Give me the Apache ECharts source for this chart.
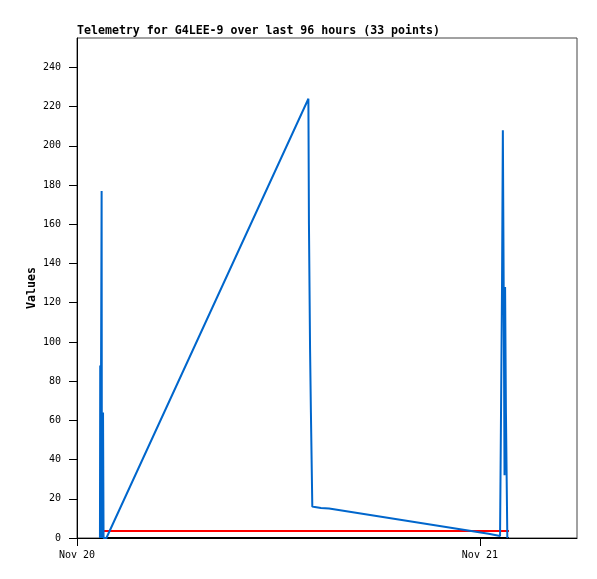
<!DOCTYPE html>
<html><head><meta charset="utf-8">
<script src="https://cdn.jsdelivr.net/npm/echarts@6/dist/echarts.min.js"></script>
<style>html,body{margin:0;padding:0;background:#fff}#c{width:597px;height:579px}</style>
</head><body><div id="c"></div>
<script>
// ---- data ----
const titleText = 'Telemetry for G4LEE-9 over last 96 hours (33 points)';
const yName = 'Values';
const xTickDates = ['2024-11-20', '2024-11-21'];
const xTickLabels = ['Nov 20', 'Nov 21'];
const yTickValues = [0, 20, 40, 60, 80, 100, 120, 140, 160, 180, 200, 220, 240];
const xRange = ['2024-11-20T00:00', '2024-11-21T05:47'];
const yMax = 255;

const blueTimes = ['2024-11-20T01:22','2024-11-20T01:23','2024-11-20T01:24','2024-11-20T01:28','2024-11-20T01:29','2024-11-20T01:33','2024-11-20T01:35','2024-11-20T01:45',
  '2024-11-20T13:47','2024-11-20T13:49','2024-11-20T13:53','2024-11-20T13:56','2024-11-20T14:01','2024-11-20T14:10','2024-11-20T14:32','2024-11-20T15:01',
  '2024-11-21T00:31','2024-11-21T01:12','2024-11-21T01:15','2024-11-21T01:19','2024-11-21T01:22','2024-11-21T01:25','2024-11-21T01:28','2024-11-21T01:30','2024-11-21T01:33','2024-11-21T01:38'];
const blueValues = [0, 88, 0, 177, 0, 64, 0, 0,
  224, 160, 96, 64, 16, 15.8, 15.3, 15,
  2.2, 1, 0, 128, 208, 128, 32, 128, 64, 0];

const redTimes = ['2024-11-20T01:34','2024-11-21T01:12','2024-11-21T01:17','2024-11-21T01:22','2024-11-21T01:44'];
const redValues = [3.6, 3.6, 2.6, 3.6, 3.6];

const blackTimes = ['2024-11-20T01:22','2024-11-21T01:44'];
const blackValues = [0, 0];

// ---- build ----
const t = s => new Date(s + (s.length === 10 ? 'T00:00' : '') + ':00Z').getTime();
const pairs = (ts, vs) => ts.map((s, i) => [t(s), vs[i]]);
const xTicks = xTickDates.map(t);
const mono = '"DejaVu Sans Mono", monospace';

const chart = echarts.init(document.getElementById('c'), null, {renderer: 'canvas'});
chart.setOption({
  animation: false,
  backgroundColor: '#fff',
  title: {
    text: titleText, left: 77, top: 25, padding: 0,
    textStyle: {fontFamily: mono, fontSize: 11.6, fontWeight: 'bold', color: '#000'}
  },
  grid: {left: 77, right: 20, top: 38, bottom: 41, show: true, borderColor: '#444', borderWidth: 1},
  xAxis: {
    type: 'value', min: t(xRange[0]), max: t(xRange[1]),
    axisLine: {show: true, onZero: false, lineStyle: {color: '#000', width: 1}},
    axisTick: {show: true, length: 8, customValues: xTicks, lineStyle: {color: '#000'}},
    axisLabel: {customValues: xTicks, margin: 12, color: '#000', fontFamily: mono, fontSize: 10,
      formatter: v => { const i = xTicks.indexOf(v); return i >= 0 ? xTickLabels[i] : ''; }},
    splitLine: {show: false}
  },
  yAxis: {
    type: 'value', min: 0, max: yMax,
    name: yName, nameLocation: 'middle', nameGap: 39, nameRotate: 90, nameMoveOverlap: false,
    nameTextStyle: {fontFamily: mono, fontSize: 11.6, fontWeight: 'bold', color: '#000'},
    axisLine: {show: true, lineStyle: {color: '#000', width: 1}},
    axisTick: {show: true, length: 8, customValues: yTickValues, lineStyle: {color: '#000'}},
    axisLabel: {customValues: yTickValues, margin: 16, color: '#000', fontFamily: mono, fontSize: 10},
    splitLine: {show: false}
  },
  series: [
    {type: 'line', data: pairs(blackTimes, blackValues), showSymbol: false, lineStyle: {color: '#000', width: 2}, itemStyle: {color: '#000'}},
    {type: 'line', data: pairs(redTimes, redValues), showSymbol: false, lineStyle: {color: '#ff0000', width: 2}, itemStyle: {color: '#ff0000'}},
    {type: 'line', data: pairs(blueTimes, blueValues), showSymbol: false, lineStyle: {color: '#0066cc', width: 2}, itemStyle: {color: '#0066cc'}}
  ]
});
</script></body></html>
